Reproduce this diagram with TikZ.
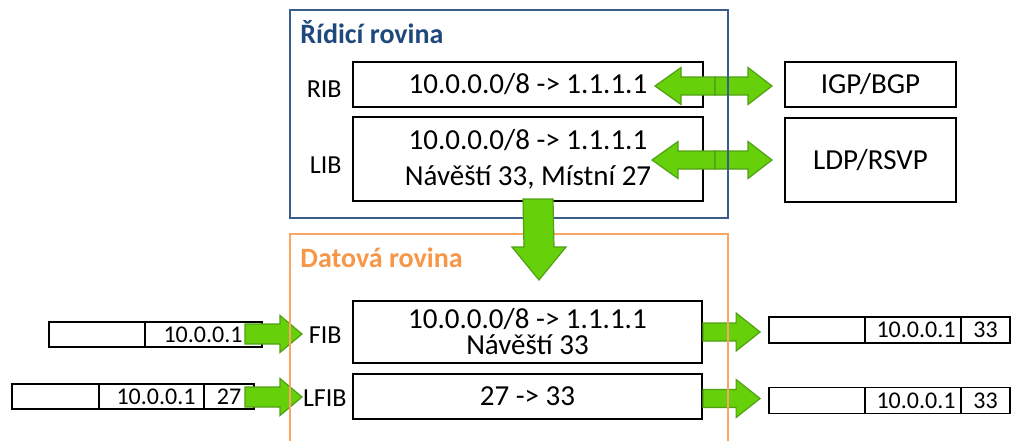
\documentclass[tikz,border=0pt]{standalone}
\usepackage{fontspec}
\setmainfont{Carlito}
\usepackage{tikz}
\usetikzlibrary{calc,positioning}
\usepackage{xcolor}

\definecolor{ctrlblue}{RGB}{56,93,138}
\definecolor{ctrltext}{RGB}{31,73,125}
\definecolor{dataorange}{RGB}{247,150,70}
\definecolor{arrowfill}{RGB}{102,208,10}
\definecolor{arrowline}{RGB}{80,160,20}

\newcommand{\tightfont}{\fontsize{14.5}{13}\selectfont\lineskiplimit=-20pt\relax}

\tikzset{
  tbl/.style={draw,line width=1pt,inner sep=0pt,align=center,font=\fontsize{14.5}{18}\selectfont},
  lbl/.style={anchor=base east,inner sep=0pt,font=\fontsize{13}{15}\selectfont},
  cell/.style={draw,line width=0.9pt,inner sep=0pt,minimum height=12.5pt,font=\fontsize{12}{13}\selectfont},
  pkt/.style={anchor=east,inner sep=0pt,font=\fontsize{12}{13}\selectfont},
  blockarrow/.style={fill=arrowfill,draw=arrowline,line width=0.6pt,line join=miter},
  title/.style={anchor=base west,inner sep=0pt,font=\fontsize{14}{16}\selectfont\bfseries}
}

% horizontal block arrow: tail, tip, head length (signed), shaft half, head half
\newcommand{\harrow}[5]{%
  \draw[blockarrow] ($(#1)+(0,#4)$) -- ($(#2)+({-(#3)},#4)$) -- ($(#2)+({-(#3)},#5)$) -- (#2)
    -- ($(#2)+({-(#3)},-#5)$) -- ($(#2)+({-(#3)},-#4)$) -- ($(#1)+(0,-#4)$) -- cycle;}

\begin{document}
\begin{tikzpicture}[x=0.5pt,y=-0.5pt]
  \useasboundingbox (0,0) rectangle (1011,440);
  % tables
  \node[tbl,minimum width=175pt,minimum height=22.5pt] (rib) at (528,84.5) {10.0.0.0/8 -> 1.1.1.1};
  \node[tbl,minimum width=175pt,minimum height=42pt] (lib) at (528,159) {10.0.0.0/8 -> 1.1.1.1\\Návěští 33, Místní 27};
  \node[tbl,minimum width=85.5pt,minimum height=22.5pt] (igp) at (870.5,84.5) {IGP/BGP};
  \node[tbl,minimum width=85.5pt,minimum height=42pt] (ldp) at (870.5,160) {LDP/RSVP};
  \node[tbl,minimum width=174.5pt,minimum height=31pt,font=\tightfont] (fib) at (527.5,332) {10.0.0.0/8 -> 1.1.1.1\\Návěští 33};
  \node[tbl,minimum width=174.5pt,minimum height=22.5pt] (lfib) at (527.5,396.5) {27 -> 33};
  \node[lbl] (riblbl) at (342,97) {RIB};
  \node[lbl] (liblbl) at (342,173) {LIB};
  \node[lbl] (fiblbl) at (342,343) {FIB};
  \node[lbl] (lfiblbl) at (347,406) {LFIB};
  % packets
  \node[cell,minimum width=48pt] (fa1) at (97,334.5) {};
  \node[cell,minimum width=58.5pt] (fa2) at (203.5,334.5) {};
  \node[pkt] at ($(fa2.east)+(-20,0)$) {10.0.0.1};
  \node[cell,minimum width=43.5pt] (la1) at (55.5,396.5) {};
  \node[cell,minimum width=52.5pt] (la2) at (151.5,396.5) {};
  \node[cell,minimum width=25pt] (la3) at (229,396.5) {27};
  \node[pkt] at ($(la2.east)+(-9,0)$) {10.0.0.1};
  \node[cell,minimum width=48pt,minimum height=13pt] (fb1) at (817,330) {};
  \node[cell,minimum width=48pt,minimum height=13pt] (fb2) at (913,330) {};
  \node[cell,minimum width=24.5pt,minimum height=13pt] (fb3) at (985.5,330) {33};
  \node[pkt] at ($(fb2.east)+(-6,0)$) {10.0.0.1};
  \node[cell,minimum width=48pt,minimum height=13pt] (lb1) at (817,400.5) {};
  \node[cell,minimum width=48pt,minimum height=13pt] (lb2) at (913,400.5) {};
  \node[cell,minimum width=24.5pt,minimum height=13pt] (lb3) at (985.5,400.5) {33};
  \node[pkt] at ($(lb2.east)+(-6,0)$) {10.0.0.1};
  % block arrows
  \coordinate (ribmid) at (715,86);
  \coordinate (ribtip) at (655,86);
  \coordinate (igptip) at ($(igp.west)+(-12,1.5)$);
  \harrow{ribmid}{ribtip}{-26}{9}{18.5}
  \harrow{ribmid}{igptip}{24}{9}{18.5}
  \coordinate (libmid) at (715,160);
  \coordinate (libtip) at (652,160);
  \coordinate (ldptip) at ($(ldp.west)+(-12,0)$);
  \harrow{libmid}{libtip}{-26}{9}{18.5}
  \harrow{libmid}{ldptip}{24}{9}{18.5}
  \coordinate (fatail) at (245,334);
  \coordinate (fatip) at (302,334);
  \harrow{fatail}{fatip}{22}{10}{18.5}
  \coordinate (latail) at (245,397);
  \coordinate (latip) at (302,397);
  \harrow{latail}{latip}{22}{10}{18.5}
  \coordinate (fbtail) at ($(fib.east)+(0,0)$);
  \coordinate (fbtip) at ($(fb1.west)+(-8,2)$);
  \harrow{fbtail}{fbtip}{24}{9}{19}
  \coordinate (lbtail) at ($(lfib.east)+(0,2)$);
  \coordinate (lbtip) at ($(lb1.west)+(-8,-2)$);
  \harrow{lbtail}{lbtip}{24}{9}{19}
  % planes
  \draw[ctrlblue,line width=1pt] (290,10) rectangle (728,218);
  \node[title,text=ctrltext] (ctrltitle) at (300,43) {Řídicí rovina};
  \draw[dataorange!85!white,line width=1pt] (290,442) -- (290,234) -- (728,234) -- (728,442);
  \node[title,text=dataorange] (datatitle) at (300,267) {Datová rovina};
  % down arrow from LIB to data plane
  \coordinate (dtail) at ($(lib.south)+(10,-3)$);
  \coordinate (dtip) at (539,280);
  \draw[blockarrow] ($(dtail)+(-15,0)$) -- ($(dtip)+(-15,-33)$) -- ($(dtip)+(-27,-33)$) -- (dtip)
    -- ($(dtip)+(27,-33)$) -- ($(dtip)+(15,-33)$) -- ($(dtail)+(15,0)$) -- cycle;
\end{tikzpicture}
\end{document}
